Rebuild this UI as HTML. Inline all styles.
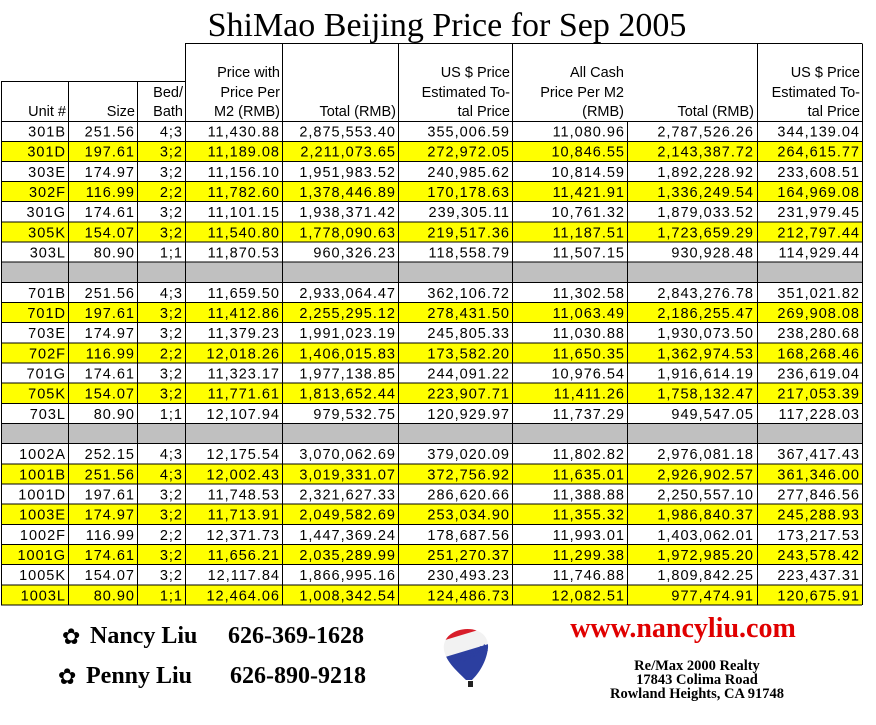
<!DOCTYPE html>
<html><head><meta charset="utf-8"><style>
html,body{margin:0;padding:0;background:#fff;width:876px;height:725px;overflow:hidden}
svg{display:block}
.t text{font-family:"Liberation Sans",Arial,sans-serif;font-size:14.5px;letter-spacing:1px;fill:#000;text-anchor:end}
.h{font-family:"Liberation Sans",Arial,sans-serif;font-size:14.5px;fill:#000;text-anchor:end}
.s{font-family:"Liberation Serif","Times New Roman",serif;font-weight:bold}
</style></head><body>
<svg width="876" height="725" viewBox="0 0 876 725" xmlns="http://www.w3.org/2000/svg">
<text x="447" y="36" text-anchor="middle" font-family="Liberation Serif,serif" font-size="34">ShiMao Beijing Price for Sep 2005</text>
<g>
<rect x="1" y="141.17" width="861" height="20.17" fill="#ffff00"/>
<rect x="1" y="181.51" width="861" height="20.17" fill="#ffff00"/>
<rect x="1" y="221.85" width="861" height="20.17" fill="#ffff00"/>
<rect x="1" y="262.19" width="861" height="20.17" fill="#c0c0c0"/>
<rect x="1" y="302.53" width="861" height="20.17" fill="#ffff00"/>
<rect x="1" y="342.87" width="861" height="20.17" fill="#ffff00"/>
<rect x="1" y="383.21" width="861" height="20.17" fill="#ffff00"/>
<rect x="1" y="423.55" width="861" height="20.17" fill="#c0c0c0"/>
<rect x="1" y="463.89" width="861" height="20.17" fill="#ffff00"/>
<rect x="1" y="504.23" width="861" height="20.17" fill="#ffff00"/>
<rect x="1" y="544.57" width="861" height="20.17" fill="#ffff00"/>
<rect x="1" y="584.91" width="861" height="20.17" fill="#ffff00"/>
</g>
<g class="t">
<g transform="translate(0,121)"><text x="66" y="15.5">301B</text><text x="135" y="15.5">251.56</text><text x="183" y="15.5">4;3</text><text x="280" y="15.5">11,430.88</text><text x="396" y="15.5">2,875,553.40</text><text x="510" y="15.5">355,006.59</text><text x="625" y="15.5">11,080.96</text><text x="754" y="15.5">2,787,526.26</text><text x="860" y="15.5">344,139.04</text></g>
<g transform="translate(0,141.17)"><text x="66" y="15.5">301D</text><text x="135" y="15.5">197.61</text><text x="183" y="15.5">3;2</text><text x="280" y="15.5">11,189.08</text><text x="396" y="15.5">2,211,073.65</text><text x="510" y="15.5">272,972.05</text><text x="625" y="15.5">10,846.55</text><text x="754" y="15.5">2,143,387.72</text><text x="860" y="15.5">264,615.77</text></g>
<g transform="translate(0,161.34)"><text x="66" y="15.5">303E</text><text x="135" y="15.5">174.97</text><text x="183" y="15.5">3;2</text><text x="280" y="15.5">11,156.10</text><text x="396" y="15.5">1,951,983.52</text><text x="510" y="15.5">240,985.62</text><text x="625" y="15.5">10,814.59</text><text x="754" y="15.5">1,892,228.92</text><text x="860" y="15.5">233,608.51</text></g>
<g transform="translate(0,181.51)"><text x="66" y="15.5">302F</text><text x="135" y="15.5">116.99</text><text x="183" y="15.5">2;2</text><text x="280" y="15.5">11,782.60</text><text x="396" y="15.5">1,378,446.89</text><text x="510" y="15.5">170,178.63</text><text x="625" y="15.5">11,421.91</text><text x="754" y="15.5">1,336,249.54</text><text x="860" y="15.5">164,969.08</text></g>
<g transform="translate(0,201.68)"><text x="66" y="15.5">301G</text><text x="135" y="15.5">174.61</text><text x="183" y="15.5">3;2</text><text x="280" y="15.5">11,101.15</text><text x="396" y="15.5">1,938,371.42</text><text x="510" y="15.5">239,305.11</text><text x="625" y="15.5">10,761.32</text><text x="754" y="15.5">1,879,033.52</text><text x="860" y="15.5">231,979.45</text></g>
<g transform="translate(0,221.85)"><text x="66" y="15.5">305K</text><text x="135" y="15.5">154.07</text><text x="183" y="15.5">3;2</text><text x="280" y="15.5">11,540.80</text><text x="396" y="15.5">1,778,090.63</text><text x="510" y="15.5">219,517.36</text><text x="625" y="15.5">11,187.51</text><text x="754" y="15.5">1,723,659.29</text><text x="860" y="15.5">212,797.44</text></g>
<g transform="translate(0,242.02)"><text x="66" y="15.5">303L</text><text x="135" y="15.5">80.90</text><text x="183" y="15.5">1;1</text><text x="280" y="15.5">11,870.53</text><text x="396" y="15.5">960,326.23</text><text x="510" y="15.5">118,558.79</text><text x="625" y="15.5">11,507.15</text><text x="754" y="15.5">930,928.48</text><text x="860" y="15.5">114,929.44</text></g>
<g transform="translate(0,282.36)"><text x="66" y="15.5">701B</text><text x="135" y="15.5">251.56</text><text x="183" y="15.5">4;3</text><text x="280" y="15.5">11,659.50</text><text x="396" y="15.5">2,933,064.47</text><text x="510" y="15.5">362,106.72</text><text x="625" y="15.5">11,302.58</text><text x="754" y="15.5">2,843,276.78</text><text x="860" y="15.5">351,021.82</text></g>
<g transform="translate(0,302.53)"><text x="66" y="15.5">701D</text><text x="135" y="15.5">197.61</text><text x="183" y="15.5">3;2</text><text x="280" y="15.5">11,412.86</text><text x="396" y="15.5">2,255,295.12</text><text x="510" y="15.5">278,431.50</text><text x="625" y="15.5">11,063.49</text><text x="754" y="15.5">2,186,255.47</text><text x="860" y="15.5">269,908.08</text></g>
<g transform="translate(0,322.70)"><text x="66" y="15.5">703E</text><text x="135" y="15.5">174.97</text><text x="183" y="15.5">3;2</text><text x="280" y="15.5">11,379.23</text><text x="396" y="15.5">1,991,023.19</text><text x="510" y="15.5">245,805.33</text><text x="625" y="15.5">11,030.88</text><text x="754" y="15.5">1,930,073.50</text><text x="860" y="15.5">238,280.68</text></g>
<g transform="translate(0,342.87)"><text x="66" y="15.5">702F</text><text x="135" y="15.5">116.99</text><text x="183" y="15.5">2;2</text><text x="280" y="15.5">12,018.26</text><text x="396" y="15.5">1,406,015.83</text><text x="510" y="15.5">173,582.20</text><text x="625" y="15.5">11,650.35</text><text x="754" y="15.5">1,362,974.53</text><text x="860" y="15.5">168,268.46</text></g>
<g transform="translate(0,363.04)"><text x="66" y="15.5">701G</text><text x="135" y="15.5">174.61</text><text x="183" y="15.5">3;2</text><text x="280" y="15.5">11,323.17</text><text x="396" y="15.5">1,977,138.85</text><text x="510" y="15.5">244,091.22</text><text x="625" y="15.5">10,976.54</text><text x="754" y="15.5">1,916,614.19</text><text x="860" y="15.5">236,619.04</text></g>
<g transform="translate(0,383.21)"><text x="66" y="15.5">705K</text><text x="135" y="15.5">154.07</text><text x="183" y="15.5">3;2</text><text x="280" y="15.5">11,771.61</text><text x="396" y="15.5">1,813,652.44</text><text x="510" y="15.5">223,907.71</text><text x="625" y="15.5">11,411.26</text><text x="754" y="15.5">1,758,132.47</text><text x="860" y="15.5">217,053.39</text></g>
<g transform="translate(0,403.38)"><text x="66" y="15.5">703L</text><text x="135" y="15.5">80.90</text><text x="183" y="15.5">1;1</text><text x="280" y="15.5">12,107.94</text><text x="396" y="15.5">979,532.75</text><text x="510" y="15.5">120,929.97</text><text x="625" y="15.5">11,737.29</text><text x="754" y="15.5">949,547.05</text><text x="860" y="15.5">117,228.03</text></g>
<g transform="translate(0,443.72)"><text x="66" y="15.5">1002A</text><text x="135" y="15.5">252.15</text><text x="183" y="15.5">4;3</text><text x="280" y="15.5">12,175.54</text><text x="396" y="15.5">3,070,062.69</text><text x="510" y="15.5">379,020.09</text><text x="625" y="15.5">11,802.82</text><text x="754" y="15.5">2,976,081.18</text><text x="860" y="15.5">367,417.43</text></g>
<g transform="translate(0,463.89)"><text x="66" y="15.5">1001B</text><text x="135" y="15.5">251.56</text><text x="183" y="15.5">4;3</text><text x="280" y="15.5">12,002.43</text><text x="396" y="15.5">3,019,331.07</text><text x="510" y="15.5">372,756.92</text><text x="625" y="15.5">11,635.01</text><text x="754" y="15.5">2,926,902.57</text><text x="860" y="15.5">361,346.00</text></g>
<g transform="translate(0,484.06)"><text x="66" y="15.5">1001D</text><text x="135" y="15.5">197.61</text><text x="183" y="15.5">3;2</text><text x="280" y="15.5">11,748.53</text><text x="396" y="15.5">2,321,627.33</text><text x="510" y="15.5">286,620.66</text><text x="625" y="15.5">11,388.88</text><text x="754" y="15.5">2,250,557.10</text><text x="860" y="15.5">277,846.56</text></g>
<g transform="translate(0,504.23)"><text x="66" y="15.5">1003E</text><text x="135" y="15.5">174.97</text><text x="183" y="15.5">3;2</text><text x="280" y="15.5">11,713.91</text><text x="396" y="15.5">2,049,582.69</text><text x="510" y="15.5">253,034.90</text><text x="625" y="15.5">11,355.32</text><text x="754" y="15.5">1,986,840.37</text><text x="860" y="15.5">245,288.93</text></g>
<g transform="translate(0,524.40)"><text x="66" y="15.5">1002F</text><text x="135" y="15.5">116.99</text><text x="183" y="15.5">2;2</text><text x="280" y="15.5">12,371.73</text><text x="396" y="15.5">1,447,369.24</text><text x="510" y="15.5">178,687.56</text><text x="625" y="15.5">11,993.01</text><text x="754" y="15.5">1,403,062.01</text><text x="860" y="15.5">173,217.53</text></g>
<g transform="translate(0,544.57)"><text x="66" y="15.5">1001G</text><text x="135" y="15.5">174.61</text><text x="183" y="15.5">3;2</text><text x="280" y="15.5">11,656.21</text><text x="396" y="15.5">2,035,289.99</text><text x="510" y="15.5">251,270.37</text><text x="625" y="15.5">11,299.38</text><text x="754" y="15.5">1,972,985.20</text><text x="860" y="15.5">243,578.42</text></g>
<g transform="translate(0,564.74)"><text x="66" y="15.5">1005K</text><text x="135" y="15.5">154.07</text><text x="183" y="15.5">3;2</text><text x="280" y="15.5">12,117.84</text><text x="396" y="15.5">1,866,995.16</text><text x="510" y="15.5">230,493.23</text><text x="625" y="15.5">11,746.88</text><text x="754" y="15.5">1,809,842.25</text><text x="860" y="15.5">223,437.31</text></g>
<g transform="translate(0,584.91)"><text x="66" y="15.5">1003L</text><text x="135" y="15.5">80.90</text><text x="183" y="15.5">1;1</text><text x="280" y="15.5">12,464.06</text><text x="396" y="15.5">1,008,342.54</text><text x="510" y="15.5">124,486.73</text><text x="625" y="15.5">12,082.51</text><text x="754" y="15.5">977,474.91</text><text x="860" y="15.5">120,675.91</text></g>
</g>
<g stroke="#000" stroke-width="1" fill="none">
<path d="M185 43.5H862 M1 81.5H185 M1 121.5H862 M1 141.5H862 M1 161.5H862 M1 181.5H862 M1 201.5H862 M1 222H862 M1 242H862 M1 262H862 M1 282.5H862 M1 302.5H862 M1 322.5H862 M1 343H862 M1 363H862 M1 383H862 M1 403.5H862 M1 423.5H862 M1 443.5H862 M1 464H862 M1 484H862 M1 504H862 M1 524.5H862 M1 544.5H862 M1 564.5H862 M1 585H862 M1 605H862"/>
<path d="M1.5 81.5V605 M68.5 81.5V605 M137.5 81.5V605 M185.5 43.5V605 M282.5 43.5V605 M398.5 43.5V605 M512.5 43.5V605 M627.5 121V605 M757.5 43.5V605 M862.5 43.5V605"/>
</g>
<text class="h" x="280" y="77">Price with</text>
<text class="h" x="280" y="97">Price Per</text>
<text class="h" x="280" y="116">M2 (RMB)</text>
<text class="h" x="66" y="116">Unit #</text>
<text class="h" x="135" y="116">Size</text>
<text class="h" x="183" y="97">Bed/</text>
<text class="h" x="183" y="116">Bath</text>
<text class="h" x="396" y="116">Total (RMB)</text>
<text class="h" x="510" y="77">US $ Price</text>
<text class="h" x="510" y="97">Estimated To-</text>
<text class="h" x="510" y="116">tal Price</text>
<text class="h" x="624" y="77">All Cash</text>
<text class="h" x="624" y="97">Price Per M2</text>
<text class="h" x="624" y="116">(RMB)</text>
<text class="h" x="754" y="116">Total (RMB)</text>
<text class="h" x="860" y="77">US $ Price</text>
<text class="h" x="860" y="97">Estimated To-</text>
<text class="h" x="860" y="116">tal Price</text>
<text x="62" y="644" font-family="DejaVu Sans,sans-serif" font-size="22">✿</text>
<text x="90" y="643" class="s" font-size="24">Nancy Liu</text>
<text x="228" y="643" class="s" font-size="24">626-369-1628</text>
<text x="58" y="684" font-family="DejaVu Sans,sans-serif" font-size="22">✿</text>
<text x="86" y="683" class="s" font-size="24">Penny Liu</text>
<text x="230" y="683" class="s" font-size="24">626-890-9218</text>
<text x="683" y="637" class="s" font-size="28" fill="#e00000" text-anchor="middle">www.nancyliu.com</text>
<text x="697" y="670" class="s" font-size="14.5" text-anchor="middle">Re/Max 2000 Realty</text>
<text x="697" y="684" class="s" font-size="14.5" text-anchor="middle">17843 Colima Road</text>
<text x="697" y="698" class="s" font-size="14.5" text-anchor="middle">Rowland Heights, CA 91748</text>
<defs><clipPath id="bl"><path d="M444,650 C440,625 490,620 488,648 C486,665 476,676 472,680 L466,680 C458,672 446,662 444,650 Z"/></clipPath></defs>
<g clip-path="url(#bl)">
<rect x="435" y="615" width="60" height="70" fill="#f2f2f2"/>
<path d="M435,615 L495,615 L495,625 L435,643 Z" fill="#d81e2a"/>
<path d="M435,660 L495,642 L495,690 L435,690 Z" fill="#2c3fa0"/>
</g>
<text x="447" y="660" font-family="Liberation Sans,sans-serif" font-size="10" font-weight="bold" fill="#2c3fa0" transform="rotate(-25 465 650)">RE/MAX</text>
<rect x="468" y="681" width="5" height="6" fill="#222"/>
</svg>
</body></html>
